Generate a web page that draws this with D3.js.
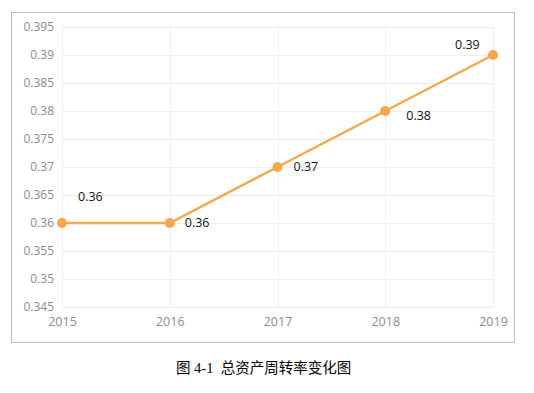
<!DOCTYPE html>
<html><head><meta charset="utf-8">
<script src="https://cdn.jsdelivr.net/npm/d3@7"></script>
<style>body{margin:0;background:#fff;}svg{display:block;}</style>
</head><body>
<svg id="c" width="534" height="393"></svg>
<script>
const years = ["2015","2016","2017","2018","2019"];
const values = [0.36, 0.36, 0.37, 0.38, 0.39];
const yTicks = [0.345,0.35,0.355,0.36,0.365,0.37,0.375,0.38,0.385,0.39,0.395];
const caption = "图 4-1  总资产周转率变化图";

const svg = d3.select("#c");
svg.append("rect").attr("x",11.5).attr("y",12.5).attr("width",503).attr("height",330)
  .attr("fill","#fff").attr("stroke","#bdbdbd").attr("stroke-width",1);

const x = d3.scalePoint().domain(years).range([62,493]);
const y = d3.scaleLinear().domain([0.345,0.395]).range([307,27]);

const g = svg.append("g");
g.selectAll(".hg").data(yTicks).join("line")
  .attr("x1",62).attr("x2",493).attr("y1",d=>Math.round(y(d))+0.5).attr("y2",d=>Math.round(y(d))+0.5)
  .attr("stroke","#eeeeee");
g.selectAll(".vg").data(years).join("line")
  .attr("y1",27).attr("y2",307).attr("x1",d=>Math.round(x(d))+0.5).attr("x2",d=>Math.round(x(d))+0.5)
  .attr("stroke","#eeeeee");

const font = "'Open Sans', 'Noto Sans', sans-serif";
const yAxis = d3.axisLeft(y).tickValues(yTicks).tickSize(0).tickPadding(8).tickFormat(d=>String(+d.toFixed(3)));
const ya = svg.append("g").attr("transform","translate(62,0)").call(yAxis);
ya.select(".domain").remove();
ya.selectAll("text").attr("fill","#8c8c8c").style("font-family",font).style("font-size","12px");

const xAxis = d3.axisBottom(x).tickSize(0).tickPadding(10);
const xa = svg.append("g").attr("transform","translate(0,307)").call(xAxis);
xa.select(".domain").remove();
xa.selectAll("text").attr("fill","#8c8c8c").style("font-family",font).style("font-size","12.5px");

const line = d3.line().x((d,i)=>x(years[i])).y(d=>y(d));
svg.append("path").datum(values).attr("d",line).attr("fill","none")
  .attr("stroke","#f4a84a").attr("stroke-width",2.5);
svg.selectAll(".pt").data(values).join("circle")
  .attr("cx",(d,i)=>x(years[i])).attr("cy",d=>y(d)).attr("r",5).attr("fill","#f4a84a");

const offs = [[16,-25],[15,1],[16,1],[21,6],[-38,-9]];
svg.selectAll(".lbl").data(values).join("text")
  .attr("x",(d,i)=>x(years[i])+offs[i][0]).attr("y",(d,i)=>y(d)+offs[i][1])
  .attr("text-anchor","start").attr("dominant-baseline","middle")
  .attr("fill","#111").style("font-family",font).style("font-size","12.5px")
  .text(d=>d.toFixed(2));

svg.append("text").attr("x",176).attr("y",373)
  .style("font-family","'Liberation Serif','Noto Sans CJK SC',serif").style("font-size","14.5px")
  .attr("fill","#000").attr("xml:space","preserve").text(caption);
</script>
</body></html>
